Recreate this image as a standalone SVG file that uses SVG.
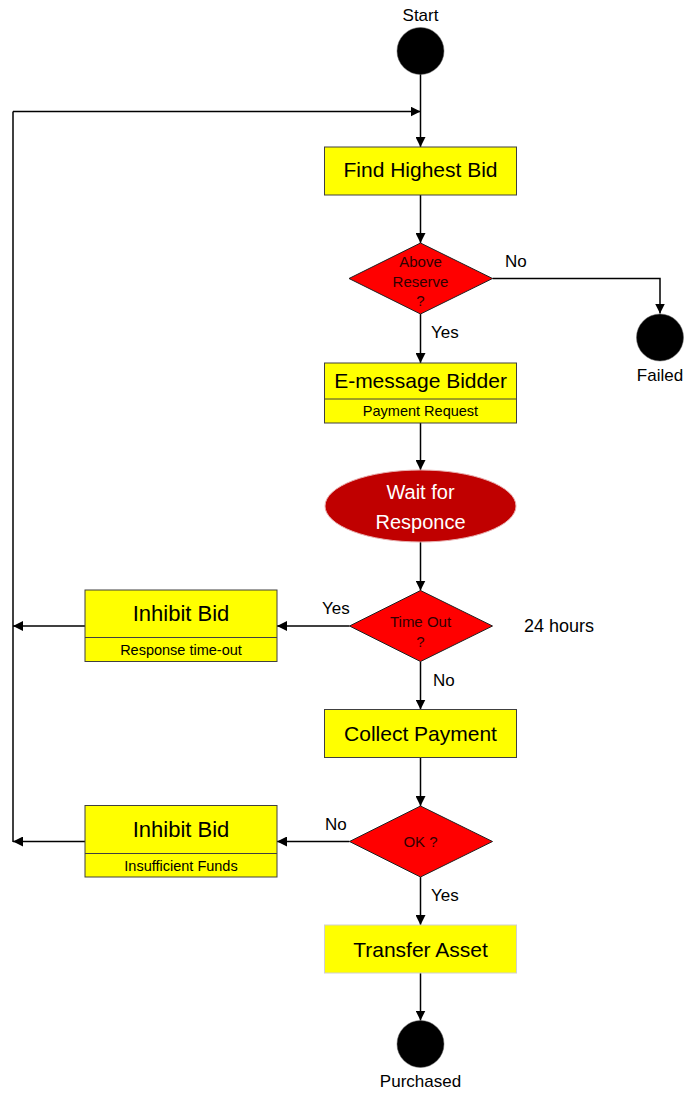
<svg xmlns="http://www.w3.org/2000/svg" width="696" height="1094" viewBox="0 0 696 1094">
<defs>
<marker id="arr" viewBox="0 0 10 10" refX="10" refY="5" markerWidth="10" markerHeight="10" markerUnits="userSpaceOnUse" orient="auto">
<path d="M0,0 L10,5 L0,10 Z" fill="#000"/>
</marker>
</defs>
<style>
text{font-family:"Liberation Sans",Arial,sans-serif;text-anchor:middle;fill:#000}
.box{fill:#ffff00;stroke:#404040;stroke-width:1}
.box2{fill:#ffff00;stroke:#d0d0d0;stroke-width:1}
.dia{fill:#ff0000;stroke:#202020;stroke-width:1}
.dot{fill:#000;stroke:#606060;stroke-width:0.5}
.t21{font-size:21px}
.t22{font-size:22px}
.t14{font-size:14.5px}
.dt{font-size:15px;fill:#300000}
.lbl{font-size:17px}
.lbl-l{text-anchor:start}
.edge{fill:none;stroke:#000;stroke-width:1.5;marker-end:url(#arr)}
.line{fill:none;stroke:#000;stroke-width:1.5}
</style>
<rect width="696" height="1094" fill="#fff"/>

<g id="connectors">
<path class="edge" d="M420.5,74 V147"/>
<path class="line" d="M13,842 V111.5"/>
<path class="edge" d="M13,111.5 H420.5"/>
<path class="edge" d="M420.5,195 V243"/>
<path class="edge" d="M492.5,278.5 H660 V313.5"/>
<path class="edge" d="M420.5,314 V363"/>
<path class="edge" d="M420.5,423 V470"/>
<path class="edge" d="M420.5,542 V590.5"/>
<path class="edge" d="M349.5,626 H277"/>
<path class="edge" d="M85,626 H13"/>
<path class="edge" d="M420.5,661.5 V709.5"/>
<path class="edge" d="M420.5,757.5 V806"/>
<path class="edge" d="M349.5,841.5 H277"/>
<path class="edge" d="M85,841.5 H13"/>
<path class="edge" d="M420.5,877 V925"/>
<path class="edge" d="M420.5,973 V1020.5"/>
<text class="lbl lbl-l" x="505" y="267">No</text>
<text class="lbl lbl-l" x="431" y="338">Yes</text>
<text class="lbl lbl-l" x="322" y="614">Yes</text>
<text class="lbl lbl-l" x="433" y="686">No</text>
<text class="lbl lbl-l" x="325" y="830">No</text>
<text class="lbl lbl-l" x="431" y="901">Yes</text>
</g>

<g id="start">
<circle class="dot" cx="420.5" cy="51" r="23.5"/>
<text class="lbl" x="420.5" y="21">Start</text>
</g>

<g id="find-highest-bid">
<rect class="box" x="324.5" y="147" width="192" height="48"/>
<text class="t21" x="420.5" y="177">Find Highest Bid</text>
</g>

<g id="above-reserve">
<polygon class="dia" points="420.5,243 492.5,278.5 420.5,314 349,278.5"/>
<text class="dt" x="420.5" y="267">Above</text>
<text class="dt" x="420.5" y="287">Reserve</text>
<text class="dt" x="420.5" y="306">?</text>
</g>

<g id="failed">
<circle class="dot" cx="660" cy="337.5" r="23.5"/>
<text class="lbl" x="660" y="381">Failed</text>
</g>

<g id="e-message-bidder">
<rect class="box" x="324.5" y="363" width="192" height="60"/>
<line x1="324.5" y1="399" x2="516.5" y2="399" stroke="#404040" stroke-width="1"/>
<text class="t21" x="420.5" y="388">E-message Bidder</text>
<text class="t14" x="420.5" y="416">Payment Request</text>
</g>

<g id="wait-for-responce">
<ellipse cx="420.5" cy="506" rx="95.5" ry="36" fill="#c00000" stroke="#e8b0b0" stroke-width="1"/>
<text x="420.5" y="499" style="font-size:20px;fill:#fff">Wait for</text>
<text x="420.5" y="528.5" style="font-size:20px;fill:#fff">Responce</text>
</g>

<g id="time-out">
<polygon class="dia" points="420.5,590.5 492.5,626 420.5,661.5 349.5,626"/>
<text class="dt" x="420.5" y="627">Time Out</text>
<text class="dt" x="420.5" y="647">?</text>
<text x="524" y="632" style="font-size:18px;text-anchor:start">24 hours</text>
</g>

<g id="inhibit-bid-timeout">
<rect class="box" x="85" y="590" width="192" height="71.5"/>
<line x1="85" y1="637.5" x2="277" y2="637.5" stroke="#404040" stroke-width="1"/>
<text class="t22" x="181" y="621">Inhibit Bid</text>
<text class="t14" x="181" y="654.5">Response time-out</text>
</g>

<g id="collect-payment">
<rect class="box" x="324.5" y="709.5" width="192" height="48"/>
<text class="t21" x="420.5" y="741">Collect Payment</text>
</g>

<g id="ok">
<polygon class="dia" points="420.5,806 492.5,841.5 420.5,877 349.5,841.5"/>
<text class="dt" x="420.5" y="847">OK ?</text>
</g>

<g id="inhibit-bid-funds">
<rect class="box" x="85" y="805.5" width="192" height="71.5"/>
<line x1="85" y1="853.5" x2="277" y2="853.5" stroke="#404040" stroke-width="1"/>
<text class="t22" x="181" y="837">Inhibit Bid</text>
<text class="t14" x="181" y="871">Insufficient Funds</text>
</g>

<g id="transfer-asset">
<rect class="box2" x="324.5" y="925" width="192" height="48"/>
<text class="t21" x="420.5" y="957">Transfer Asset</text>
</g>

<g id="purchased">
<circle class="dot" cx="420.5" cy="1044" r="23.5"/>
<text class="lbl" x="420.5" y="1087">Purchased</text>
</g>
</svg>
